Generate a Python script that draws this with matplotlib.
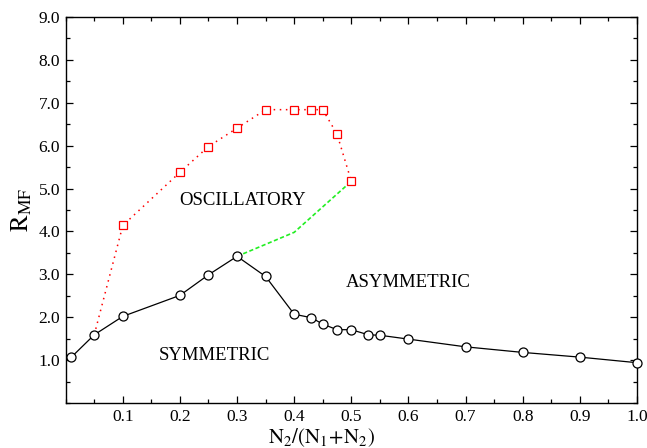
import matplotlib
matplotlib.use("Agg")
import matplotlib.pyplot as plt
from matplotlib.ticker import MultipleLocator, FixedLocator

plt.rcParams['font.family'] = ['Liberation Serif', 'DejaVu Serif']
plt.rcParams['mathtext.fontset'] = 'stix'

# symmetric / asymmetric boundary (black circles)
x_sym = [0.01, 0.05, 0.1, 0.2, 0.25, 0.3, 0.35, 0.4, 0.43, 0.45, 0.475, 0.5,
         0.53, 0.55, 0.6, 0.7, 0.8, 0.9, 1.0]
r_sym = [1.07, 1.59, 2.02, 2.51, 2.99, 3.42, 2.95, 2.07, 1.99, 1.84, 1.71, 1.71,
         1.59, 1.58, 1.49, 1.31, 1.18, 1.07, 0.94]

# oscillatory boundary (red squares)
x_osc = [0.05, 0.1, 0.2, 0.25, 0.3, 0.35, 0.4, 0.43, 0.45, 0.475, 0.5]
r_osc = [1.59, 4.14, 5.38, 5.98, 6.41, 6.84, 6.84, 6.84, 6.84, 6.27, 5.17]

# green dashed boundary
x_grn = [0.3, 0.4, 0.5]
r_grn = [3.42, 3.98, 5.17]

fig = plt.figure(figsize=(6.47, 4.48), dpi=100)
ax = fig.add_axes([0.1015, 0.1004, 0.883, 0.8616])

ax.plot(x_grn, r_grn, color='#22ee22', lw=1.2, linestyle=(0, (2.5, 1.5)), zorder=2)
ax.plot(x_osc, r_osc, color='red', lw=1.1, linestyle=(0, (1, 3)),
        marker='s', ms=5.2, mfc='white', mec='red', mew=0.9,
        markevery=list(range(1, len(x_osc))), zorder=3)
ax.plot(x_sym, r_sym, color='black', lw=0.9, marker='o', ms=6.5,
        mfc='white', mec='black', mew=0.9, zorder=4, clip_on=False)

ax.text(0.31, 4.73, "OSCILLATORY", fontsize=13.5, ha='center', va='center')
ax.text(0.60, 2.80, "ASYMMETRIC", fontsize=13.5, ha='center', va='center')
ax.text(0.26, 1.10, "SYMMETRIC", fontsize=13.5, ha='center', va='center')

ax.set_xlim(0, 1.0)
ax.set_ylim(0, 9.0)
ax.xaxis.set_major_locator(FixedLocator([0.1, 0.2, 0.3, 0.4, 0.5, 0.6, 0.7, 0.8, 0.9, 1.0]))
ax.xaxis.set_minor_locator(MultipleLocator(0.05))
ax.yaxis.set_major_locator(FixedLocator([1, 2, 3, 4, 5, 6, 7, 8, 9]))
ax.yaxis.set_minor_locator(MultipleLocator(0.5))
ax.xaxis.set_major_formatter(plt.FuncFormatter(lambda v, p: f"{v:.1f}"))
ax.yaxis.set_major_formatter(plt.FuncFormatter(lambda v, p: f"{v:.1f}"))
ax.tick_params(which='both', direction='in', top=True, right=True, labelsize=12.5, width=0.9)
ax.tick_params(which='major', length=5, pad=4)
ax.tick_params(which='minor', length=3)
for s in ax.spines.values():
    s.set_linewidth(1.0)

ax.set_xlabel(r'$\mathrm{N_2/(N_1\!+\!N_2)}$', fontsize=15, labelpad=1)
ax.xaxis.set_label_coords(0.448, -0.06)
ax.set_ylabel(r'$\mathrm{R_{MF}}$', fontsize=18)
ax.yaxis.set_label_coords(-0.055, 0.5)

fig.savefig("out.png", dpi=100)
